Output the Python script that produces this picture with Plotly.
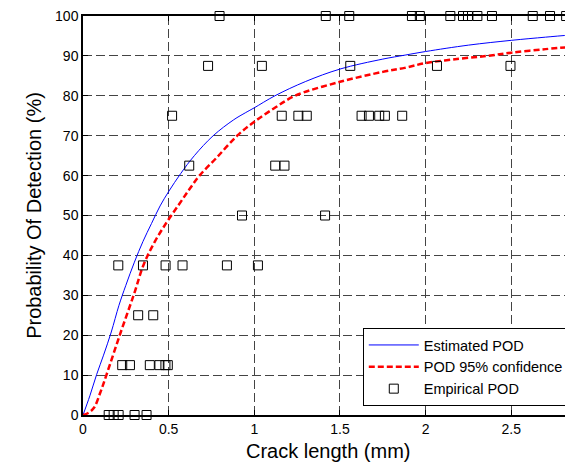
import plotly.graph_objects as go

# Estimated POD curve
est_x = [0, 0.04, 0.08, 0.12, 0.165, 0.21, 0.25, 0.30, 0.35, 0.40, 0.45, 0.50, 0.57, 0.65, 0.76, 0.88, 0.95, 1.0, 1.12, 1.3, 1.5, 1.75, 1.88, 2.0, 2.25, 2.5, 2.7, 2.86]
est_y = [0, 4.8, 10.2, 15.0, 20.8, 27.5, 32.5, 38.3, 43.5, 48.0, 52.4, 56.0, 60.5, 65.0, 70.0, 74.0, 75.8, 77.0, 80.0, 83.6, 86.7, 89.2, 90.2, 91.1, 92.7, 93.9, 94.7, 95.3]

# POD 95% confidence curve
conf_x = [0, 0.03, 0.064, 0.10, 0.138, 0.216, 0.297, 0.355, 0.42, 0.487, 0.559, 0.62, 0.68, 0.78, 0.90, 1.0, 1.12, 1.238, 1.5, 1.75, 1.878, 2.0, 2.2, 2.36, 2.5, 2.7, 2.86]
conf_y = [0, 0.5, 1.8, 5.5, 10.2, 20.2, 30.2, 37.8, 43.5, 48.2, 52.7, 56.5, 60.0, 64.5, 70.0, 73.5, 77.0, 80.0, 83.5, 86.0, 87.0, 88.2, 89.3, 90.0, 90.8, 91.7, 92.3]

# Empirical POD points
emp_x = [0.797, 1.417, 1.554, 1.92, 1.966, 2.144, 2.218, 2.247, 2.302, 2.387, 2.625, 2.726, 2.82,
         0.73, 1.044, 1.56, 2.066, 2.495,
         0.52, 1.16, 1.257, 1.306, 1.626, 1.669, 1.729, 1.762, 1.863,
         0.62, 1.122, 1.176,
         0.928, 1.413,
         0.206, 0.35, 0.482, 0.581, 0.84, 1.021,
         0.322, 0.41,
         0.229, 0.274, 0.39, 0.446, 0.481, 0.495,
         0.15, 0.179, 0.208, 0.301, 0.371]
emp_y = [100] * 13 + [87.5] * 5 + [75] * 9 + [62.5] * 3 + [50] * 2 + [37.5] * 6 + [25] * 2 + [12.5] * 6 + [0] * 5

x_ticks = [0, 0.5, 1, 1.5, 2, 2.5]
x_tick_text = ["0", "0.5", "1", "1.5", "2", "2.5"]
y_ticks = [0, 10, 20, 30, 40, 50, 60, 70, 80, 90, 100]

font = "Liberation Sans, Arial, sans-serif"

fig = go.Figure()
fig.add_trace(go.Scatter(x=est_x, y=est_y, mode="lines", name="Estimated POD",
                         line=dict(color="#0000ff", width=1, shape="spline"), cliponaxis=False))
fig.add_trace(go.Scatter(x=conf_x, y=conf_y, mode="lines", name="POD 95% confidence",
                         line=dict(color="#ff0000", width=2.5, dash="6px,3px", shape="spline"),
                         cliponaxis=False))
fig.add_trace(go.Scatter(x=emp_x, y=emp_y, mode="markers", name="Empirical POD",
                         marker=dict(symbol="square-open", size=9, color="black", line=dict(width=1)),
                         cliponaxis=False))

fig.update_layout(
    width=565, height=457,
    margin=dict(l=75, r=0, t=8, b=50),
    paper_bgcolor="white", plot_bgcolor="white",
    font=dict(family=font, size=14, color="black"),
    showlegend=True,
    legend=dict(x=0.571, y=0.218, xanchor="left", yanchor="top",
                bgcolor="white", bordercolor="black", borderwidth=1,
                font=dict(size=14.5), tracegroupgap=0, itemwidth=50),
    xaxis=dict(range=[0, 2.86], tickvals=x_ticks, ticktext=x_tick_text,
               showline=True, linecolor="black", linewidth=1.5, mirror="ticks",
               ticks="inside", ticklen=5, tickcolor="black", ticklabeloverflow="allow",
               showgrid=True, gridcolor="#444", gridwidth=1, griddash="9px,4px",
               zeroline=False),
    yaxis=dict(range=[0, 100], tickvals=y_ticks,
               showline=True, linecolor="black", linewidth=1.5,
               ticks="inside", ticklen=5, tickcolor="black", ticklabeloverflow="allow",
               showgrid=True, gridcolor="#444", gridwidth=1, griddash="9px,4px",
               zeroline=False,
               title=dict(text="Probability Of Detection (%)", font=dict(size=20), standoff=8)),
    annotations=[dict(text="Crack length (mm)", xref="paper", yref="paper", x=0.5, y=0,
                      xanchor="center", yanchor="top", yshift=-23, showarrow=False,
                      font=dict(size=20))],
)

fig.write_html("out.html")
